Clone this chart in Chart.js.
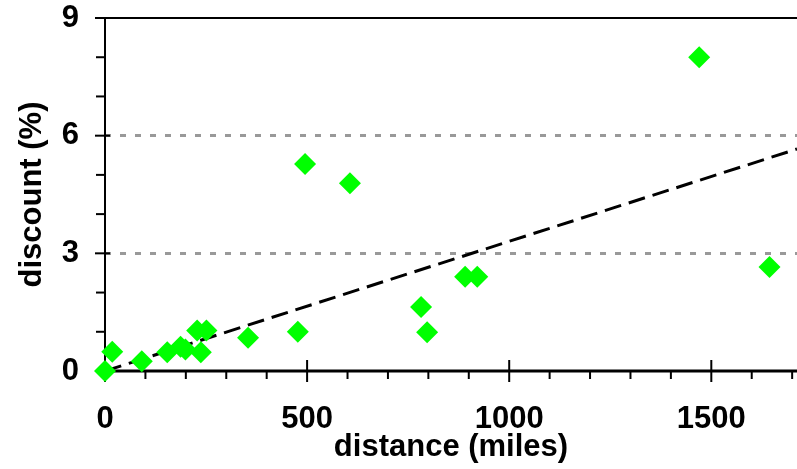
<!DOCTYPE html>
<html>
<head>
<meta charset="utf-8">
<script src="https://cdn.jsdelivr.net/npm/chart.js@4"></script>
<style>
  html, body { margin: 0; padding: 0; background: #fff; }
  #wrap { width: 797px; height: 469px; }
</style>
</head>
<body>
<div id="wrap"><canvas id="chart" width="797" height="469"></canvas></div>
<script>
// data
const distance = [0, 18, 91, 154, 187, 199, 228, 237, 251, 354, 477, 495, 606, 782, 797, 891, 921, 1470, 1644];
const discount = [0, 0.49, 0.25, 0.48, 0.62, 0.55, 1.03, 0.48, 1.03, 0.85, 1.0, 5.28, 4.79, 1.63, 0.99, 2.4, 2.4, 8.0, 2.65];

// dashed trend line, end points
const trendX = [0, 1712];
const trendY = [0, 5.66];

// axis ticks
const xMajorTicks = [0, 500, 1000, 1500];
const xMinorTicks = [100, 200, 300, 400, 600, 700, 800, 900, 1100, 1200, 1300, 1400, 1600, 1700];
const yMajorTicks = [0, 3, 6, 9];
const yMinorTicks = [1, 2, 4, 5, 7, 8];
const yGridLines = [3, 6];

const labelFont = { family: '"Liberation Sans", Arial, sans-serif', size: 31, weight: 'bold' };

// no extra room for labels that stick out of the plot
function fixScale(scale, size) {
    if (scale.isHorizontal()) scale.height = size;
    else scale.width = size;
    scale.paddingLeft = 0;
    scale.paddingRight = 0;
    scale.paddingTop = 0;
    scale.paddingBottom = 0;
}

// axes, top border and tick marks drawn under the points
const axesPlugin = {
    id: 'axesPlugin',
    beforeDatasetsDraw(chart) {
        const ctx = chart.ctx;
        const xs = chart.scales.x;
        const ys = chart.scales.y;
        const x0 = xs.getPixelForValue(0);
        const y0 = ys.getPixelForValue(0);
        const yTop = ys.getPixelForValue(9);
        const right = chart.chartArea.right;

        ctx.save();
        ctx.strokeStyle = '#000';

        // y axis
        ctx.lineWidth = 2;
        ctx.beginPath();
        ctx.moveTo(x0, yTop);
        ctx.lineTo(x0, y0);
        ctx.stroke();

        // top border
        ctx.beginPath();
        ctx.moveTo(x0 - 10, yTop);
        ctx.lineTo(right, yTop);
        ctx.stroke();

        yMajorTicks.forEach(v => {
            const p = ys.getPixelForValue(v);
            ctx.beginPath();
            ctx.moveTo(x0 - 10, p);
            ctx.lineTo(x0 + 5, p);
            ctx.stroke();
        });
        yMinorTicks.forEach(v => {
            const p = ys.getPixelForValue(v);
            ctx.beginPath();
            ctx.moveTo(x0 - 9, p);
            ctx.lineTo(x0, p);
            ctx.stroke();
        });

        xMajorTicks.forEach(v => {
            const p = xs.getPixelForValue(v);
            ctx.beginPath();
            ctx.moveTo(p, y0 - 11);
            ctx.lineTo(p, y0 + 11);
            ctx.stroke();
        });
        xMinorTicks.forEach(v => {
            const p = xs.getPixelForValue(v);
            ctx.beginPath();
            ctx.moveTo(p, y0);
            ctx.lineTo(p, y0 + 8);
            ctx.stroke();
        });

        // x axis
        ctx.lineWidth = 3;
        ctx.beginPath();
        ctx.moveTo(x0 - 1, y0);
        ctx.lineTo(right, y0);
        ctx.stroke();
        ctx.restore();
    }
};

const points = distance.map((d, i) => ({ x: d, y: discount[i] }));
const trend = trendX.map((d, i) => ({ x: d, y: trendY[i] }));

new Chart(document.getElementById('chart'), {
    type: 'scatter',
    data: {
        datasets: [{
            data: points,
            pointStyle: 'rectRot',
            pointRadius: 11,
            pointHoverRadius: 11,
            pointBackgroundColor: '#00ff00',
            pointBorderWidth: 0,
            borderWidth: 0,
            clip: false,
            order: 0
        }, {
            type: 'line',
            data: trend,
            borderColor: '#000',
            borderWidth: 3,
            borderDash: [17, 8],
            pointRadius: 0,
            fill: false,
            order: 1
        }]
    },
    options: {
        responsive: false,
        animation: false,
        events: [],
        layout: { autoPadding: false, padding: { top: 18, left: 0, right: 0, bottom: 0 } },
        plugins: {
            legend: { display: false },
            tooltip: { enabled: false }
        },
        scales: {
            x: {
                type: 'linear',
                min: 0,
                max: 1712,
                afterFit: scale => fixScale(scale, 98),
                grid: { display: false, drawTicks: false },
                border: { display: false },
                ticks: {
                    stepSize: 100,
                    autoSkip: false,
                    maxRotation: 0,
                    padding: 30,
                    color: '#000',
                    font: labelFont,
                    callback: v => (v % 500 === 0 ? String(v) : '')
                },
                title: {
                    display: true,
                    text: 'distance (miles)',
                    color: '#000',
                    font: labelFont,
                    padding: { top: 0, bottom: 3 }
                }
            },
            y: {
                type: 'linear',
                min: 0,
                max: 9,
                afterFit: scale => fixScale(scale, 105),
                grid: {
                    drawTicks: false,
                    color: '#999999',
                    lineWidth: ctx => (yGridLines.includes(ctx.tick && ctx.tick.value) ? 3 : 0)
                },
                border: { display: false, dash: [6, 9] },
                ticks: {
                    stepSize: 1,
                    autoSkip: false,
                    padding: 26,
                    color: '#000',
                    font: labelFont,
                    callback: v => (v % 3 === 0 ? String(v) : '')
                },
                title: {
                    display: true,
                    text: 'discount (%)',
                    color: '#000',
                    font: labelFont,
                    padding: { top: 14, bottom: 0 }
                }
            }
        }
    },
    plugins: [axesPlugin]
});
</script>
</body>
</html>
